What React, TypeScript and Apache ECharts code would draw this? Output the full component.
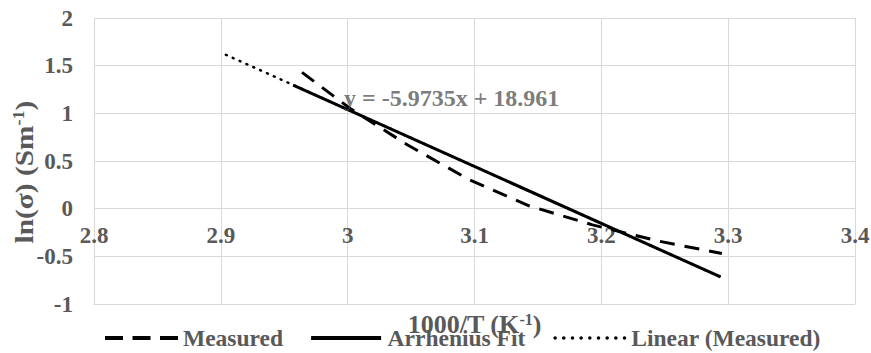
import React, { useEffect, useRef } from "react";
import * as echarts from "echarts";

// Measured data (1000/T, ln σ)
const measuredX = [2.964, 3.002, 3.047, 3.095, 3.143, 3.193, 3.245, 3.295];
const measuredY = [1.43, 1.05, 0.67, 0.31, 0.03, -0.17, -0.34, -0.47];

// Arrhenius fit line end points
const fitX = [2.957, 3.294];
const fitY = [1.297, -0.716];

// Linear trendline (Measured), with backward forecast
const trendX = [2.904, 3.294];
const trendY = [1.614, -0.716];

// Equation label anchor
const eqText = "y = -5.9735x + 18.961";
const eqX = [3.082];
const eqY = [1.16];

const xTicks = { min: 2.8, max: 3.4, interval: 0.1 };
const yTicks = { min: -1, max: 2, interval: 0.5 };

const seriesNames = ["Measured", "Arrhenius Fit", "Linear (Measured)"];
const xTitle = "1000/T (K{sup|-1})";
const yTitle = "ln(σ) (Sm{sup|-1})";

const FONT = "Liberation Serif";
const GRAY = "#595959";
const GRID = "#d9d9d9";

function pairs(xs: number[], ys: number[]) {
  return xs.map((x, i) => [x, ys[i]]);
}

const dashIcon = "path://M0,0h18v4h-18z M27.5,0h18v4h-18z M55,0h18v4h-18z";
const solidIcon = "path://M0,0h70v4h-70z";
function dotsIcon() {
  let d = "path://";
  const r = 1.8;
  for (let i = 0; i < 9; i++) {
    const cx = r + i * ((73 - 2 * r) / 8);
    d += `M${(cx - r).toFixed(2)},${r}a${r},${r} 0 1,0 ${2 * r},0a${r},${r} 0 1,0 ${-2 * r},0z `;
  }
  return d.trim();
}

export default function App() {
  const ref = useRef<HTMLDivElement>(null);
  useEffect(() => {
    const chart = echarts.init(ref.current!, null, { renderer: "svg" });
    const textBase = { fontFamily: FONT, fontWeight: "bold" as const, color: GRAY };
    chart.setOption({
      animation: false,
      backgroundColor: "#ffffff",
      grid: {
        left: 94,
        right: 16,
        top: 18,
        bottom: 49,
        containLabel: false,
        outerBoundsMode: "none",
      },
      xAxis: {
        type: "value",
        min: xTicks.min,
        max: xTicks.max,
        interval: xTicks.interval,
        axisLine: { show: true, onZero: false, lineStyle: { color: GRID, width: 1 } },
        axisTick: { show: false },
        splitLine: { show: true, lineStyle: { color: GRID, width: 1 } },
        axisLabel: { ...textBase, fontSize: 23, margin: -80 },
        name: xTitle,
        nameLocation: "middle",
        nameGap: 7,
        nameTextStyle: {
          ...textBase,
          fontSize: 26,
          rich: {
            sup: { ...textBase, fontSize: 16, verticalAlign: "top", padding: [0, 0, 9, 0] },
          },
        },
      },
      yAxis: {
        type: "value",
        min: yTicks.min,
        max: yTicks.max,
        interval: yTicks.interval,
        axisLine: { show: false, onZero: false },
        axisTick: { show: false },
        splitLine: { show: true, lineStyle: { color: GRID, width: 1 } },
        axisLabel: { ...textBase, fontSize: 23, margin: 21 },
      },
      graphic: [
        {
          type: "text",
          x: 24,
          y: 172,
          rotation: Math.PI / 2,
          scaleX: 1.13,
          style: {
            text: yTitle,
            fontFamily: FONT,
            fontWeight: "bold",
            fontSize: 26,
            fill: GRAY,
            align: "center",
            verticalAlign: "middle",
            rich: {
              sup: {
                fontFamily: FONT,
                fontWeight: "bold",
                fontSize: 16,
                fill: GRAY,
                verticalAlign: "top",
                padding: [0, 0, 9, 0],
              },
            },
          },
        },
      ],
      legend: {
        data: [
          { name: seriesNames[0], icon: dashIcon },
          { name: seriesNames[1], icon: solidIcon },
          { name: seriesNames[2], icon: dotsIcon() },
        ],
        left: 100,
        top: 321,
        itemWidth: 73,
        itemHeight: 4,
        itemGap: 28,
        textStyle: { ...textBase, fontSize: 23.5 },
      },
      series: [
        {
          name: "Linear (Measured)",
          type: "line",
          data: pairs(trendX, trendY),
          symbol: "none",
          z: 1,
          lineStyle: { color: "#000", width: 2.5, type: [1, 6.5], cap: "round" },
          itemStyle: { color: "#000" },
        },
        {
          name: "Measured",
          type: "line",
          data: pairs(measuredX, measuredY),
          symbol: "none",
          z: 3,
          lineStyle: { color: "#000", width: 3, type: [15, 10] },
          itemStyle: { color: "#000" },
        },
        {
          name: "Arrhenius Fit",
          type: "line",
          data: pairs(fitX, fitY),
          symbol: "none",
          z: 2,
          lineStyle: { color: "#000", width: 3, type: "solid" },
          itemStyle: { color: "#000" },
        },
        {
          name: "equation",
          type: "scatter",
          data: pairs(eqX, eqY),
          symbolSize: 1,
          silent: true,
          z: 5,
          itemStyle: { color: "rgba(0,0,0,0)" },
          label: {
            show: true,
            position: "inside",
            formatter: eqText,
            ...textBase,
            fontSize: 24,
          },
        },
      ],
    });
    return () => chart.dispose();
  }, []);
  return (
    <div
      ref={ref}
      style={{ position: "fixed", left: 0, top: 0, width: 871, height: 353 }}
    />
  );
}
